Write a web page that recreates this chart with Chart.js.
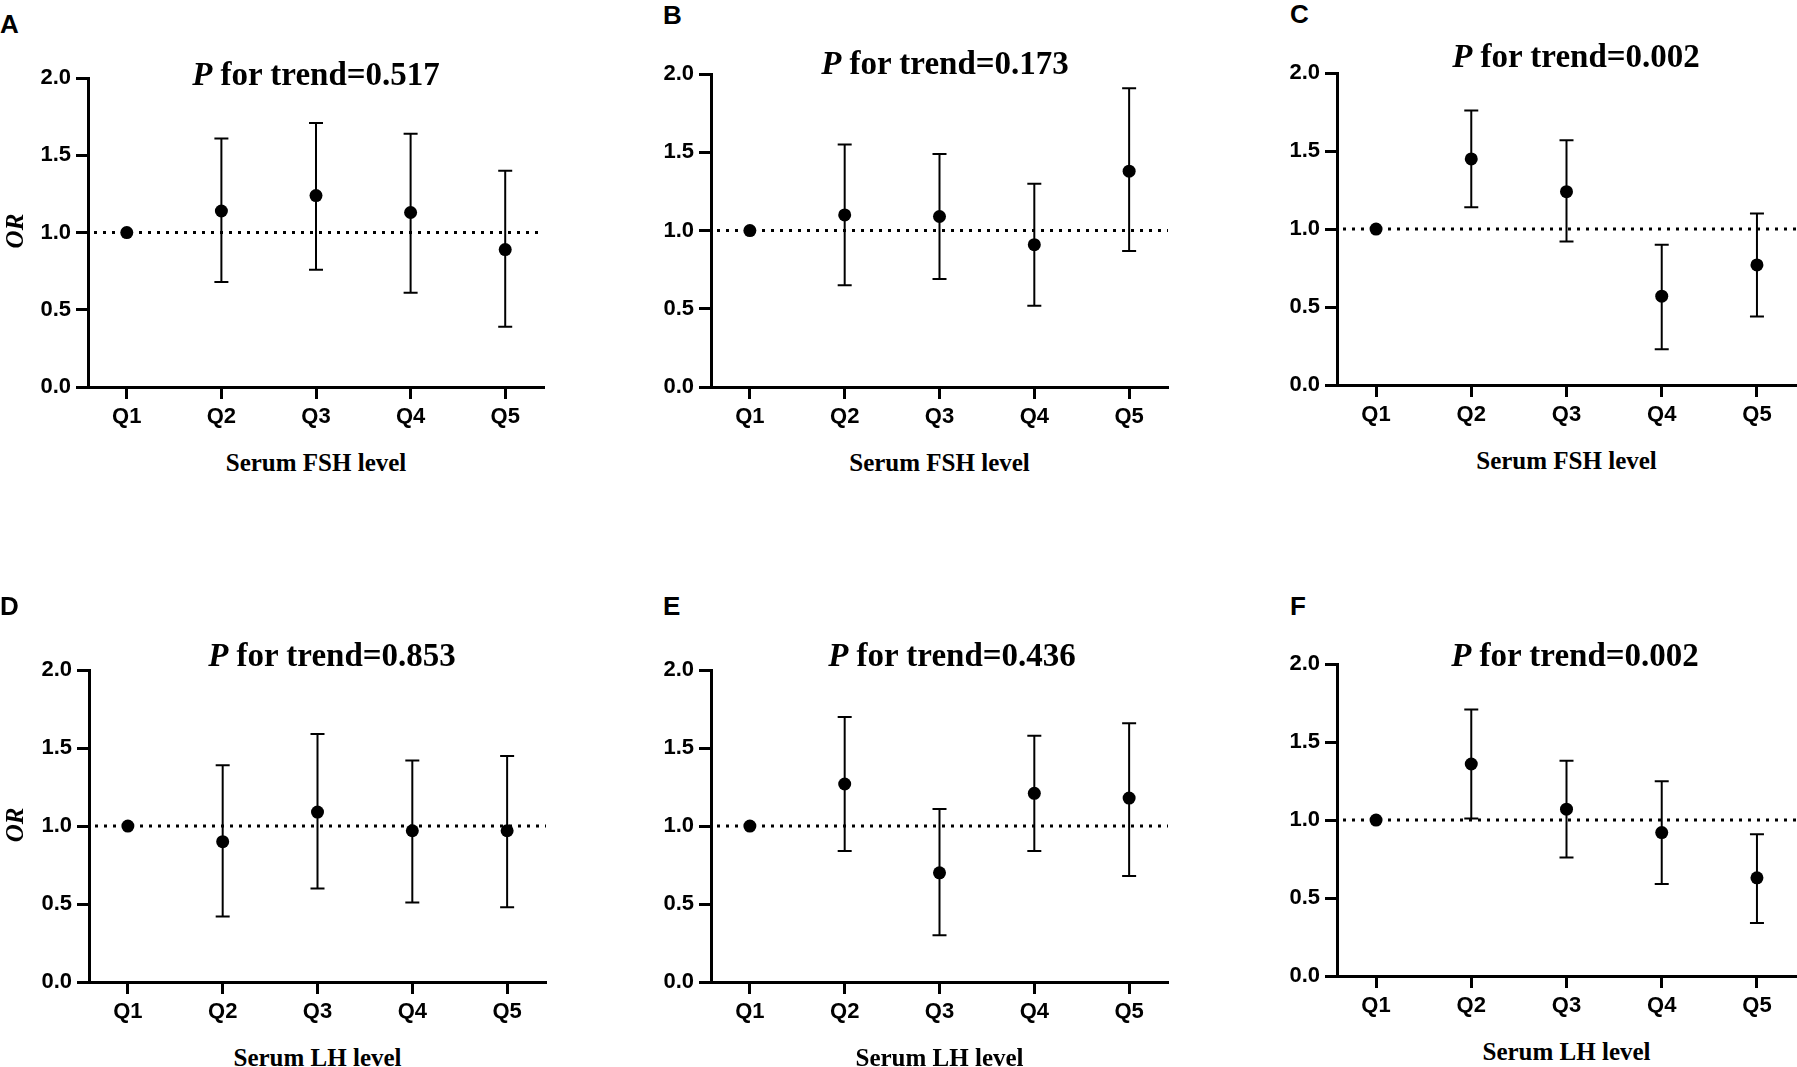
<!DOCTYPE html>
<html lang="en">
<head>
    <meta charset="UTF-8">
    <title>OR by quintile of serum FSH / LH</title>
    <script src="https://cdn.jsdelivr.net/npm/chart.js"></script>
    <style>
        html, body {
            margin: 0;
            padding: 0;
            background: #fff;
            width: 1797px;
            height: 1067px;
            overflow: hidden;
        }
        #figure {
            position: relative;
            width: 1797px;
            height: 1067px;
        }
        canvas { position: absolute; }
        .letter {
            position: absolute;
            font: bold 26px "Liberation Sans", Arial, sans-serif;
            line-height: 26px;
            color: #000;
        }
        .ptitle {
            position: absolute;
            width: 600px;
            text-align: center;
            white-space: nowrap;
            font: bold 33px "Liberation Serif", "Times New Roman", serif;
            line-height: 33px;
            color: #000;
        }
        .xtitle {
            position: absolute;
            width: 400px;
            text-align: center;
            white-space: nowrap;
            font: bold 25px "Liberation Serif", "Times New Roman", serif;
            line-height: 30px;
            color: #000;
        }
        .ytitle {
            position: absolute;
            width: 100px;
            height: 30px;
            text-align: center;
            font: italic bold 25px "Liberation Serif", "Times New Roman", serif;
            line-height: 30px;
            transform: rotate(-90deg);
            color: #000;
        }
    </style>
</head>
<body>
<div id="figure"></div>

<script>
    // categories and ticks
    const quintiles = ['Q1', 'Q2', 'Q3', 'Q4', 'Q5'];
    const xTickValues = [1, 2, 3, 4, 5];
    const yTickValues = [0, 0.5, 1.0, 1.5, 2.0];
    const refOR = 1;

    const panelLetters = ['A', 'B', 'C', 'D', 'E', 'F'];
    const trendP = ['0.517', '0.173', '0.002', '0.853', '0.436', '0.002'];
    const xTitles = ['Serum FSH level', 'Serum FSH level', 'Serum FSH level',
                     'Serum LH level', 'Serum LH level', 'Serum LH level'];

    // OR and 95% CI (Q1 = reference, no bar)
    const orA   = [1.00, 1.14, 1.24, 1.13, 0.89];
    const lowA  = [null, 0.68, 0.76, 0.61, 0.39];
    const highA = [null, 1.61, 1.71, 1.64, 1.40];

    const orB   = [1.00, 1.10, 1.09, 0.91, 1.38];
    const lowB  = [null, 0.65, 0.69, 0.52, 0.87];
    const highB = [null, 1.55, 1.49, 1.30, 1.91];

    const orC   = [1.00, 1.45, 1.24, 0.57, 0.77];
    const lowC  = [null, 1.14, 0.92, 0.23, 0.44];
    const highC = [null, 1.76, 1.57, 0.90, 1.10];

    const orD   = [1.00, 0.90, 1.09, 0.97, 0.97];
    const lowD  = [null, 0.42, 0.60, 0.51, 0.48];
    const highD = [null, 1.39, 1.59, 1.42, 1.45];

    const orE   = [1.00, 1.27, 0.70, 1.21, 1.18];
    const lowE  = [null, 0.84, 0.30, 0.84, 0.68];
    const highE = [null, 1.70, 1.11, 1.58, 1.66];

    const orF   = [1.00, 1.36, 1.07, 0.92, 0.63];
    const lowF  = [null, 1.01, 0.76, 0.59, 0.34];
    const highF = [null, 1.71, 1.38, 1.25, 0.91];

    const series = [
        { or: orA, low: lowA, high: highA },
        { or: orB, low: lowB, high: highB },
        { or: orC, low: lowC, high: highC },
        { or: orD, low: lowD, high: highD },
        { or: orE, low: lowE, high: highE },
        { or: orF, low: lowF, high: highF }
    ];

    // page layout of each panel: axis box (L,R,T,B), title centre/baseline, letter pos
    const layout = [
        { L: 88,   R: 544,  T: 75,  B: 387, tx: 316,  tb: 86,  lx: 0,    lb: 33 },
        { L: 711,  R: 1168, T: 71,  B: 387, tx: 945,  tb: 75,  lx: 663,  lb: 24 },
        { L: 1337, R: 1796, T: 70,  B: 385, tx: 1576, tb: 68,  lx: 1290, lb: 23 },
        { L: 89,   R: 546,  T: 667, B: 982, tx: 332,  tb: 667, lx: 0,    lb: 615 },
        { L: 711,  R: 1168, T: 667, B: 982, tx: 952,  tb: 667, lx: 663,  lb: 615 },
        { L: 1337, R: 1796, T: 661, B: 976, tx: 1575, tb: 667, lx: 1290, lb: 615 }
    ];

    const X_MIN = 0.59, X_MAX = 5.41;
    const Y_W = 90, X_H = 50, PAD_T = 15, PAD_R = 6;
    const tickFont = { family: "'Liberation Sans', Arial, sans-serif", size: 22, weight: 'bold' };

    const fig = document.getElementById('figure');

    function addText(cls, html, left, top) {
        const d = document.createElement('div');
        d.className = cls;
        d.innerHTML = html;
        d.style.left = left + 'px';
        d.style.top = top + 'px';
        fig.appendChild(d);
        return d;
    }

    function buildPanel(i) {
        const s = series[i];
        const g = layout[i];

        const canvas = document.createElement('canvas');
        const cw = g.R - g.L + Y_W + PAD_R;
        const ch = g.B - g.T + PAD_T + X_H;
        canvas.width = cw;
        canvas.height = ch;
        canvas.style.width = cw + 'px';
        canvas.style.height = ch + 'px';
        canvas.style.left = (g.L - Y_W) + 'px';
        canvas.style.top = (g.T - PAD_T) + 'px';
        fig.appendChild(canvas);

        const points = quintiles.map((q, k) => ({ x: xTickValues[k], y: s.or[k] }));
        const stems = [];
        const caps = [];
        quintiles.forEach((q, k) => {
            if (s.low[k] == null) return;
            const x = xTickValues[k];
            stems.push({ x: x, y: s.low[k] }, { x: x, y: s.high[k] }, { x: x, y: null });
            caps.push({ x: x, y: s.low[k] }, { x: x, y: s.high[k] });
        });

        new Chart(canvas.getContext('2d'), {
            type: 'scatter',
            data: {
                datasets: [
                    {
                        data: points,
                        pointRadius: 6.5,
                        pointBackgroundColor: '#000',
                        pointBorderWidth: 0,
                        order: 0
                    },
                    {
                        type: 'line',
                        data: caps,
                        showLine: false,
                        pointStyle: 'line',
                        pointRadius: 7,
                        pointBorderColor: '#000',
                        pointBorderWidth: 2,
                        order: 1
                    },
                    {
                        type: 'line',
                        data: stems,
                        spanGaps: false,
                        borderColor: '#000',
                        borderWidth: 2,
                        pointRadius: 0,
                        order: 2
                    },
                    {
                        type: 'line',
                        data: [{ x: X_MIN, y: refOR }, { x: X_MAX, y: refOR }],
                        borderColor: '#000',
                        borderWidth: 3,
                        borderDash: [3, 6],
                        borderDashOffset: -6,
                        pointRadius: 0,
                        order: 3
                    }
                ]
            },
            options: {
                responsive: false,
                animation: false,
                devicePixelRatio: 1,
                layout: { autoPadding: false, padding: { top: PAD_T, right: PAD_R, left: 0, bottom: 0 } },
                plugins: { legend: { display: false }, tooltip: { enabled: false } },
                scales: {
                    x: {
                        type: 'linear',
                        min: X_MIN,
                        max: X_MAX,
                        afterBuildTicks: sc => { sc.ticks = xTickValues.map(v => ({ value: v })); },
                        afterFit: sc => { sc.height = X_H; },
                        ticks: {
                            callback: v => quintiles[xTickValues.indexOf(v)],
                            color: '#000',
                            font: tickFont,
                            padding: 5,
                            maxRotation: 0
                        },
                        grid: {
                            drawOnChartArea: false,
                            drawTicks: true,
                            tickLength: 12,
                            tickWidth: 3,
                            tickColor: '#000'
                        },
                        border: { display: true, color: '#000', width: 3 }
                    },
                    y: {
                        min: 0,
                        max: 2,
                        afterBuildTicks: sc => { sc.ticks = yTickValues.map(v => ({ value: v })); },
                        afterFit: sc => { sc.width = Y_W; },
                        ticks: {
                            callback: v => v.toFixed(1),
                            color: '#000',
                            font: tickFont,
                            padding: 5
                        },
                        grid: {
                            drawOnChartArea: false,
                            drawTicks: true,
                            tickLength: 12,
                            tickWidth: 3,
                            tickColor: '#000'
                        },
                        border: { display: true, color: '#000', width: 3 }
                    }
                }
            }
        });

        // texts
        addText('letter', panelLetters[i], g.lx, g.lb - 22);
        addText('ptitle', '<i>P</i> for trend=' + trendP[i], g.tx - 300, g.tb - 28);
        addText('xtitle', xTitles[i], (g.L + g.R) / 2 - 200, g.B + 76 - 15);
        if (i % 3 === 0) {
            addText('ytitle', 'OR', 15 - 50, (g.T + g.B) / 2 - 15);
        }
    }

    series.forEach((s, i) => buildPanel(i));
</script>
</body>
</html>
